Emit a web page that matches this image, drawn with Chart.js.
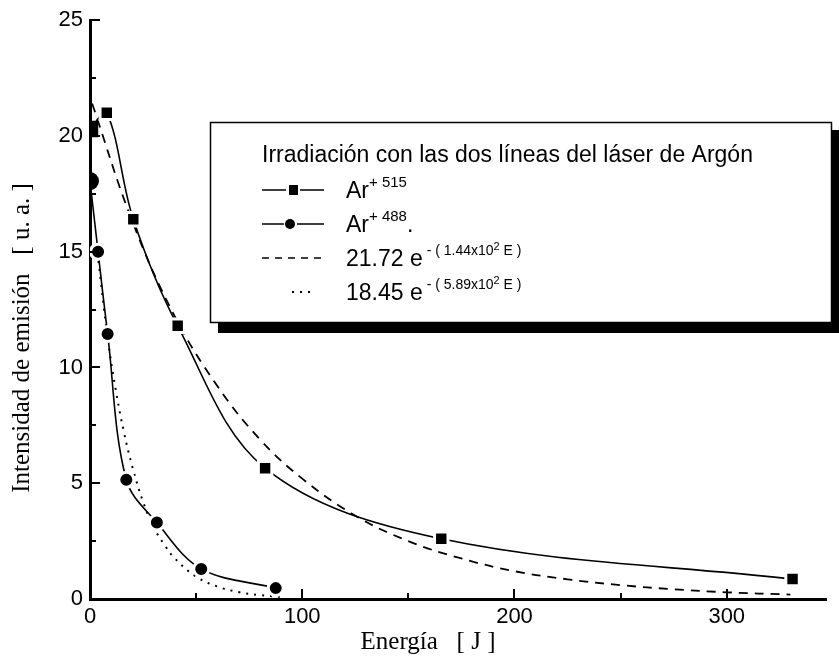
<!DOCTYPE html>
<html>
<head>
<meta charset="utf-8">
<script src="https://cdn.jsdelivr.net/npm/chart.js@4.4.1/dist/chart.umd.min.js"></script>
<style>
    html, body { margin: 0; padding: 0; background: #fff; }
    #c { display: block; }
</style>
</head>
<body>
<canvas id="c" width="839" height="659"></canvas>
<script>
// datos medidos (Ar+ 515 nm, cuadrados)
var energy515 = [0, 7.9, 20.4, 41.3, 82.5, 165.5, 331];
var intens515 = [20.3, 21.0, 16.4, 11.8, 5.65, 2.6, 0.86];
// datos medidos (Ar+ 488 nm, circulos)
var energy488 = [0, 3.8, 8.3, 17.1, 31.5, 52.4, 87.5];
var intens488 = [18.05, 15.0, 11.45, 5.15, 3.3, 1.3, 0.47];
// curva de ajuste 515 (linea de trazos)
var fitEnergy515 = [1, 20, 40, 60, 80, 100, 125, 150, 175, 200, 225, 250, 275, 300, 330];
var fitIntens515 = [21.4, 16.3, 12.2, 9.2, 6.9, 5.2, 3.6, 2.5, 1.75, 1.2, 0.85, 0.6, 0.42, 0.29, 0.19];
// curva de ajuste 488 (linea punteada)
var fitEnergy488 = [4, 8, 12, 16, 20, 25, 30, 35, 40, 50, 60, 70, 80, 90];
var fitIntens488 = [14.6, 11.5, 9.1, 7.2, 5.7, 4.2, 3.1, 2.35, 1.75, 0.97, 0.54, 0.3, 0.17, 0.09];
// ticks
var xTickValues = [0, 100, 200, 300];
var yTickValues = [0, 5, 10, 15, 20, 25];

function toPoints(xs, ys) {
    return xs.map(function (x, i) { return { x: x, y: ys[i] } })
}

var sansFont = '"Liberation Sans", Arial, sans-serif';
var serifFont = '"Liberation Serif", "Times New Roman", serif';

// ticks hacia adentro
var innerTicks = {
    id: 'innerTicks',
    afterDraw: function (chart) {
        var ctx = chart.ctx, x = chart.scales.x, y = chart.scales.y;
        var area = chart.chartArea;
        ctx.save();
        ctx.strokeStyle = '#000';
        ctx.lineWidth = 2;
        for (var v = 0; v <= 25; v += 2.5) {
            var py = Math.round(y.getPixelForValue(v));
            var len = (v % 5 === 0) ? 10 : 6;
            ctx.beginPath();
            ctx.moveTo(area.left, py);
            ctx.lineTo(area.left + len, py);
            ctx.stroke();
        }
        for (var e = 50; e <= 300; e += 50) {
            var px = Math.round(x.getPixelForValue(e));
            var l = (e % 100 === 0) ? 10 : 6;
            ctx.beginPath();
            ctx.moveTo(px, area.bottom);
            ctx.lineTo(px, area.bottom - l);
            ctx.stroke();
        }
        ctx.restore();
    }
}

// titulos de ejes
var axisTitles = {
    id: 'axisTitles',
    afterDraw: function (chart) {
        var ctx = chart.ctx;
        ctx.save();
        ctx.fillStyle = '#000';
        ctx.font = '25px ' + serifFont;
        ctx.textAlign = 'center';
        ctx.textBaseline = 'middle';
        ctx.fillText('Energía   [ J ]', 428, 642);
        ctx.translate(22, 338);
        ctx.rotate(-Math.PI / 2);
        ctx.fillText('Intensidad de emisión   [ u. a. ]', 0, 0);
        ctx.restore();
    }
}

function drawRich(ctx, x, y, parts) {
    parts.forEach(function (p) {
        ctx.font = p.size + 'px ' + sansFont;
        ctx.fillText(p.t, x, y - (p.dy || 0));
        x += ctx.measureText(p.t).width;
    })
}

// leyenda con sombra
var boxLegend = {
    id: 'boxLegend',
    afterDraw: function (chart) {
        var ctx = chart.ctx;
        var L = 210, T = 122, W = 622, H = 201;
        ctx.save();
        ctx.fillStyle = '#000';
        ctx.fillRect(L + 8, T + H, W, 10);
        ctx.fillRect(L + W, T + 8, 7, H + 2);
        ctx.fillStyle = '#fff';
        ctx.fillRect(L, T, W, H);
        ctx.strokeStyle = '#000';
        ctx.lineWidth = 1.5;
        ctx.strokeRect(L + 0.5, T + 0.5, W - 1, H - 1);

        ctx.fillStyle = '#000';
        ctx.textBaseline = 'alphabetic';
        ctx.textAlign = 'left';
        ctx.font = '23px ' + sansFont;
        ctx.fillText('Irradiación con las dos líneas del láser de Argón', 262, 162);

        var sx = 262;
        var rows = [190, 224, 258, 292];
        ctx.lineWidth = 1.5;
        // fila 1
        ctx.beginPath(); ctx.moveTo(sx, rows[0]); ctx.lineTo(sx + 24, rows[0]); ctx.moveTo(sx + 38, rows[0]); ctx.lineTo(sx + 62, rows[0]); ctx.stroke();
        ctx.fillRect(sx + 27, rows[0] - 5, 9, 10);
        // fila 2
        ctx.beginPath(); ctx.moveTo(sx, rows[1]); ctx.lineTo(sx + 22, rows[1]); ctx.moveTo(sx + 35, rows[1]); ctx.lineTo(sx + 62, rows[1]); ctx.stroke();
        ctx.beginPath(); ctx.arc(sx + 28, rows[1], 5, 0, 2 * Math.PI); ctx.fill();
        // fila 3
        ctx.setLineDash([7, 6]);
        ctx.beginPath(); ctx.moveTo(sx, rows[2]); ctx.lineTo(sx + 64, rows[2]); ctx.stroke();
        // fila 4
        ctx.setLineDash([2, 6]);
        ctx.lineWidth = 2;
        ctx.beginPath(); ctx.moveTo(sx + 30, rows[3]); ctx.lineTo(sx + 54, rows[3]); ctx.stroke();
        ctx.setLineDash([]);

        var tx = 346;
        drawRich(ctx, tx, rows[0] + 8, [{ t: 'Ar', size: 23 }, { t: '+ 515', size: 15, dy: 11 }]);
        drawRich(ctx, tx, rows[1] + 8, [{ t: 'Ar', size: 23 }, { t: '+ 488', size: 15, dy: 11 }, { t: '.', size: 23 }]);
        drawRich(ctx, tx, rows[2] + 8, [{ t: '21.72 e', size: 23 }, { t: ' - ( 1.44x10', size: 14, dy: 11 },
            { t: '2', size: 11, dy: 16 }, { t: ' E )', size: 14, dy: 11 }]);
        drawRich(ctx, tx, rows[3] + 8, [{ t: '18.45 e', size: 23 }, { t: ' - ( 5.89x10', size: 14, dy: 11 },
            { t: '2', size: 11, dy: 16 }, { t: ' E )', size: 14, dy: 11 }]);
        ctx.restore();
    }
}

var whiteRing = ['#000', '#fff', '#fff', '#fff', '#fff', '#fff', '#fff'];

var ctx = document.getElementById('c').getContext('2d');
var chart = new Chart(ctx, {
    type: 'line',
    data: {
        datasets: [
            {
                label: 'Ar+515',
                data: toPoints(energy515, intens515),
                borderColor: '#000',
                borderWidth: 1.6,
                backgroundColor: '#000',
                pointStyle: 'rect',
                pointRadius: 9.5,
                pointBorderWidth: 3,
                pointBorderColor: whiteRing,
                tension: 0.35
            },
            {
                label: 'Ar+488',
                data: toPoints(energy488, intens488),
                borderColor: '#000',
                borderWidth: 1.6,
                backgroundColor: '#000',
                pointStyle: 'circle',
                pointRadius: 7.5,
                pointBorderWidth: 3,
                pointBorderColor: whiteRing,
                tension: 0.35
            },
            {
                label: 'ajuste 515',
                data: toPoints(fitEnergy515, fitIntens515),
                borderColor: '#000',
                borderWidth: 1.8,
                borderDash: [9, 7],
                pointRadius: 0,
                tension: 0.4
            },
            {
                label: 'ajuste 488',
                data: toPoints(fitEnergy488, fitIntens488),
                borderColor: '#000',
                borderWidth: 2,
                borderDash: [2, 6],
                pointRadius: 0,
                tension: 0.4
            }
        ]
    },
    options: {
        responsive: false,
        animation: false,
        layout: { padding: { top: 20, right: 1, left: 0, bottom: 0 } },
        plugins: {
            legend: { display: false },
            tooltip: { enabled: false }
        },
        scales: {
            x: {
                type: 'linear',
                min: 0,
                max: 347,
                grid: { drawOnChartArea: false, drawTicks: false },
                border: { display: true, color: '#000', width: 3 },
                ticks: { color: '#000', padding: 5, maxRotation: 0, font: { family: sansFont, size: 22 } },
                afterBuildTicks: function (s) {
                    s.ticks = xTickValues.map(function (v) { return { value: v } })
                },
                afterFit: function (s) { s.height = 60 }
            },
            y: {
                type: 'linear',
                min: 0,
                max: 25,
                grid: { drawOnChartArea: false, drawTicks: false },
                border: { display: true, color: '#000', width: 3 },
                ticks: { color: '#000', padding: 7, font: { family: sansFont, size: 22 } },
                afterBuildTicks: function (s) {
                    s.ticks = yTickValues.map(function (v) { return { value: v } })
                },
                afterFit: function (s) { s.width = 90 }
            }
        }
    },
    plugins: [innerTicks, axisTitles, boxLegend]
});
</script>
</body>
</html>
